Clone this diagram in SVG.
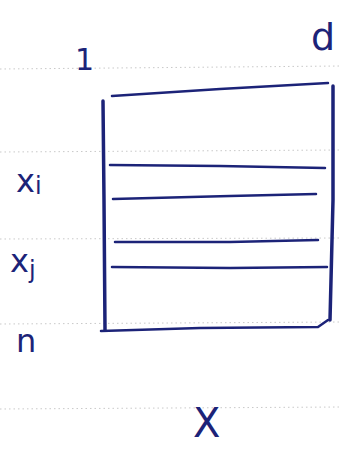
<svg xmlns="http://www.w3.org/2000/svg" width="342" height="450" viewBox="0 0 342 450">
<style>
.rule{stroke:#c9c9c9;stroke-width:1;stroke-dasharray:1.5 3;fill:none}
.ink{stroke:#1c2378;stroke-linecap:round;stroke-linejoin:round;fill:none}
.lbl{fill:#1c2378;font-family:"DejaVu Sans",sans-serif}
</style>
<rect width="342" height="450" fill="#ffffff"/>
<g id="ruled-lines">
<line class="rule" x1="0" y1="69" x2="342" y2="66"/>
<line class="rule" x1="0" y1="152" x2="342" y2="150"/>
<line class="rule" x1="0" y1="239" x2="342" y2="238"/>
<line class="rule" x1="0" y1="324" x2="342" y2="322"/>
<line class="rule" x1="0" y1="409" x2="342" y2="407"/>
</g>
<g id="matrix">
<path class="ink" stroke-width="3.5" d="M103 101 L104 200 L105 330"/>
<path class="ink" stroke-width="2.5" d="M112 96 L220 89 L328 83"/>
<path class="ink" stroke-width="3.5" d="M333 86 L333 200 L330 320"/>
<path class="ink" stroke-width="2.5" d="M101 331 L200 328 L318 327 L328 320"/>
</g>
<g id="rows">
<path class="ink" stroke-width="2.5" d="M110 165 L220 166 L325 168"/>
<path class="ink" stroke-width="2.5" d="M113 199 L230 196 L316 194"/>
<path class="ink" stroke-width="2.5" d="M115 242 L230 242 L318 240"/>
<path class="ink" stroke-width="2.5" d="M112 267 L230 268 L327 267"/>
</g>
<g id="labels">
<text class="lbl" x="75" y="70" font-size="30">1</text>
<text class="lbl" x="311" y="50" font-size="38">d</text>
<text class="lbl" x="16" y="192" font-size="32">x<tspan font-size="24" dy="2">i</tspan></text>
<text class="lbl" x="10" y="272" font-size="32">x<tspan font-size="24" dy="6">j</tspan></text>
<text class="lbl" x="16" y="352" font-size="32">n</text>
<text class="lbl" x="193" y="437" font-size="40">X</text>
</g>
</svg>
